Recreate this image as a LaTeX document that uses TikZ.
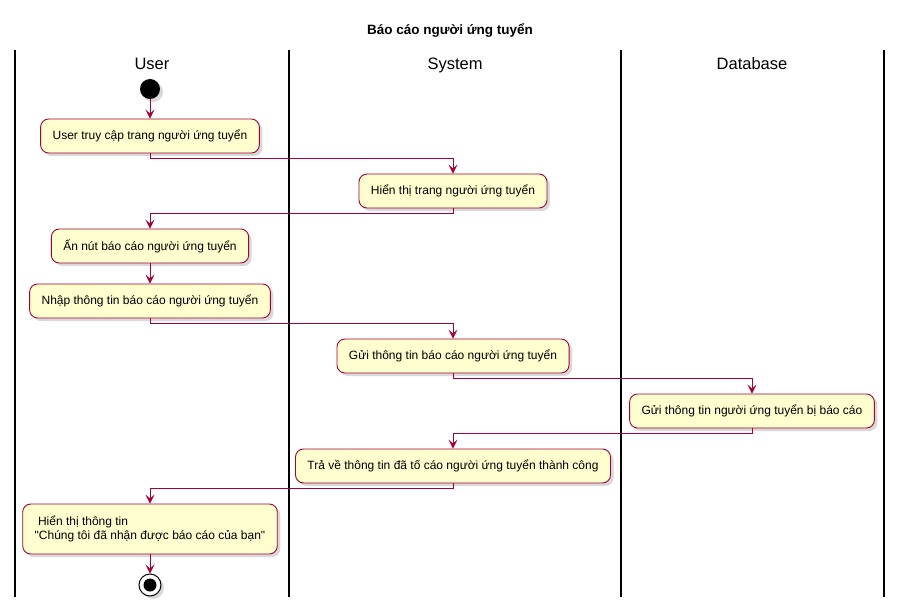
\documentclass[tikz,border=0pt]{standalone}
\usepackage{fontspec}
\setmainfont{Liberation Sans}
\usetikzlibrary{arrows.meta,shadows}
\definecolor{act}{HTML}{FEFECE}
\definecolor{edge}{HTML}{A80036}

\begin{document}
\begin{tikzpicture}[x=1pt, y=-1pt,
    box/.style={rectangle, rounded corners=8pt, draw=edge, fill=act, line width=0.9pt,
        minimum height=34pt, inner xsep=12pt, font=\fontsize{12}{14.5}\selectfont,
        drop shadow={shadow xshift=3pt, shadow yshift=-3pt, opacity=0.3}},
    flow/.style={draw=edge, line width=0.9pt, -{Stealth[length=9pt, width=9pt, inset=4pt]}},
    lane/.style={line width=1.3pt},
    head/.style={anchor=base, font=\fontsize{16.5}{19}\selectfont}]
    \useasboundingbox (0,0) rectangle (901,612);
    \node[font=\bfseries\fontsize{13.5}{16}\selectfont] (title) at (450,30) {Báo cáo người ứng tuyển};
    % swimlanes
    \foreach \x in {15,289,621,884}
        \draw[lane] (\x,50) -- (\x,597);
    \node[head] (user) at (152,70) {User};
    \node[head] (system) at (455,70) {System};
    \node[head] (db) at (752,70) {Database};
    % activities
    \node[circle, fill=black, minimum size=20pt, inner sep=0pt,
        drop shadow={shadow xshift=3pt, shadow yshift=-3pt, opacity=0.3}] (start) at (150,89) {};
    \node[box] (a1) at (150,136) {User truy cập trang người ứng tuyển};
    \node[box] (a2) at (453,191) {Hiển thị trang người ứng tuyển};
    \node[box] (a3) at (150,246) {Ấn nút báo cáo người ứng tuyển};
    \node[box] (a4) at (150,301) {Nhập thông tin báo cáo người ứng tuyển};
    \node[box] (a5) at (453,356) {Gửi thông tin báo cáo người ứng tuyển};
    \node[box] (a6) at (752,411) {Gửi thông tin người ứng tuyển bị báo cáo};
    \node[box] (a7) at (453,466) {Trả về thông tin đã tố cáo người ứng tuyển thành công};
    \node[box, minimum height=50pt, align=left] (a8) at (150,529)
        {\ Hiển thị thông tin\\\textquotedbl Chúng tôi đã nhận được báo cáo của bạn\textquotedbl};
    \node[circle, draw=black, fill=white, line width=1pt, minimum size=22pt, inner sep=0pt,
        drop shadow={shadow xshift=3pt, shadow yshift=-3pt, opacity=0.3}] (stop) at (150,585) {};
    \node[circle, fill=black, minimum size=13pt, inner sep=0pt] (stopdot) at (stop) {};
    % flows
    \draw[flow] (start) -- (a1);
    \draw[flow] (a1.south) -- ++(0,5) -| (a2.north);
    \draw[flow] (a2.south) -- ++(0,5) -| (a3.north);
    \draw[flow] (a3) -- (a4);
    \draw[flow] (a4.south) -- ++(0,5) -| (a5.north);
    \draw[flow] (a5.south) -- ++(0,5) -| (a6.north);
    \draw[flow] (a6.south) -- ++(0,5) -| (a7.north);
    \draw[flow] (a7.south) -- ++(0,5) -| (a8.north);
    \draw[flow] (a8) -- (stop);
\end{tikzpicture}
\end{document}
